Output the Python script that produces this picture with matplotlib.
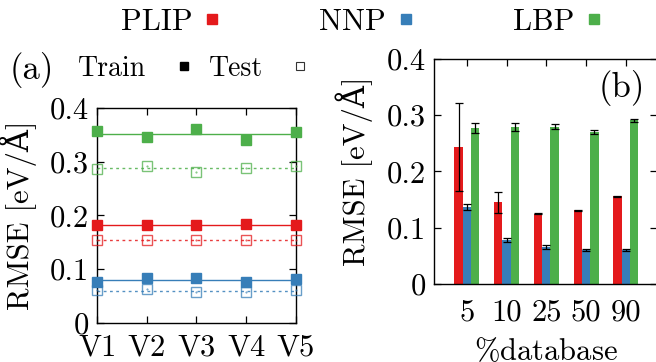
import numpy as np
import matplotlib
matplotlib.use("Agg")
import matplotlib.pyplot as plt
from matplotlib.lines import Line2D

plt.rcParams['font.family'] = 'serif'
plt.rcParams['font.serif'] = ['cmr10']
plt.rcParams['mathtext.fontset'] = 'cm'
plt.rcParams['axes.formatter.use_mathtext'] = True
plt.rcParams['axes.unicode_minus'] = False

# ---------------- data ----------------
versions = ['V1', 'V2', 'V3', 'V4', 'V5']
plip_train = [0.182, 0.182, 0.182, 0.184, 0.182]
plip_test = [0.154, 0.154, 0.154, 0.154, 0.154]
nnp_train = [0.076, 0.084, 0.083, 0.076, 0.081]
nnp_test = [0.061, 0.063, 0.057, 0.058, 0.061]
lbp_train = [0.357, 0.346, 0.360, 0.340, 0.355]
lbp_test = [0.287, 0.292, 0.281, 0.289, 0.292]

pct_db = ['5', '10', '25', '50', '90']
plip_bar = [0.243, 0.145, 0.125, 0.131, 0.156]
plip_err = [0.078, 0.018, 0.001, 0.001, 0.001]
nnp_bar = [0.137, 0.078, 0.066, 0.060, 0.060]
nnp_err = [0.005, 0.004, 0.003, 0.002, 0.002]
lbp_bar = [0.277, 0.279, 0.280, 0.270, 0.291]
lbp_err = [0.009, 0.007, 0.005, 0.004, 0.003]

yticks = [0, 0.1, 0.2, 0.3, 0.4]
ytick_labels = ['0', '0.1', '0.2', '0.3', '0.4']

models = ['PLIP', 'NNP', 'LBP']
colors = ['#e41a1c', '#377eb8', '#4daf4a']

FS = 22
YLABEL = 'RMSE [eV/Å]'
YFAM = ['cmr10', 'DejaVu Serif']
fig = plt.figure(figsize=(6.56, 3.62), dpi=100)

# ---------------- panel (a) ----------------
axa = fig.add_axes([0.148, 0.1077, 0.303, 0.594])
xa = np.arange(1, len(versions) + 1)
trains = [plip_train, nnp_train, lbp_train]
tests = [plip_test, nnp_test, lbp_test]
for tr, te, c in zip(trains, tests, colors):
    axa.plot([xa[0], xa[-1]], [np.mean(tr)] * 2, '-', color=c, lw=1.0, zorder=2)
    axa.plot([xa[0], xa[-1]], [np.mean(te)] * 2, linestyle=(0, (2, 2.5)), color=c, lw=1.0, alpha=0.85, zorder=2)
    axa.plot(xa, tr, 's', color=c, ms=6.5, mec=c, clip_on=False, zorder=3)
    axa.plot(xa, te, 's', mfc='none', mec=c, mew=1.0, ms=6.5, alpha=0.75, clip_on=False, zorder=3)
    axa.plot(xa, te, '.', color=c, ms=1.0, alpha=0.75, clip_on=False, zorder=3)
axa.set_xlim(1, 5)
axa.set_ylim(0, 0.4)
axa.set_xticks(xa)
axa.set_xticklabels(versions, fontsize=FS)
axa.set_yticks(yticks)
axa.set_yticklabels(ytick_labels, fontsize=FS)
axa.tick_params(direction='in', top=True, right=True, length=5, width=0.9, pad=6)
axa.tick_params(axis='x', pad=8)
axa.set_ylabel(YLABEL, fontsize=FS, family=YFAM)
axa.yaxis.set_label_coords(-0.30, 0.5)
for s in axa.spines.values():
    s.set_linewidth(1.0)

fig.text(0.049, 0.807, '(a)', fontsize=FS + 3, ha='center', va='center')
h_train = Line2D([], [], marker='s', color='black', ls='none', ms=6)
h_test = Line2D([], [], marker='s', mfc='none', mec='black', mew=0.8, ls='none', ms=5.5, alpha=0.8)
fig.legend([h_train, h_test], ['Train', 'Test'], loc='center left',
           bbox_to_anchor=(0.119, 0.81), ncol=2, frameon=False, fontsize=FS - 2,
           markerfirst=False, handlelength=0.6, handletextpad=1.05,
           columnspacing=0.6, borderpad=0, borderaxespad=0)

# ---------------- panel (b) ----------------
axb = fig.add_axes([0.6616, 0.2155, 0.34, 0.6215])
xb = np.arange(len(pct_db))
w = 0.21
bars = [plip_bar, nnp_bar, lbp_bar]
errs = [plip_err, nnp_err, lbp_err]
for i, (b, e, c) in enumerate(zip(bars, errs, colors)):
    axb.bar(xb + (i - 1) * w, b, width=w, color=c, yerr=e,
            error_kw=dict(ecolor='black', elinewidth=0.9, capsize=3, capthick=0.9),
            zorder=2)
axb.set_xlim(-0.83, 4.79)
axb.set_ylim(0, 0.4)
axb.set_xticks(xb)
axb.set_xticklabels(pct_db, fontsize=FS)
axb.set_yticks(yticks)
axb.set_yticklabels(ytick_labels, fontsize=FS)
axb.tick_params(direction='in', top=True, right=True, length=5, width=0.9, pad=6)
axb.tick_params(axis='x', bottom=False, pad=11)
axb.set_ylabel(YLABEL, fontsize=FS, family=YFAM)
axb.yaxis.set_label_coords(-0.275, 0.5)
axb.set_xlabel(r'$\%\mathrm{database}$', fontsize=FS)
axb.xaxis.set_label_coords(0.5, -0.235)
for s in axb.spines.values():
    s.set_linewidth(1.0)
axb.text(0.84, 0.87, '(b)', transform=axb.transAxes, fontsize=FS + 3, ha='center', va='center')

# ---------------- top legend ----------------
handles = [Line2D([], [], marker='s', color=c, ls='none', ms=6.5) for c in colors]
fig.legend(handles, models, loc='center', bbox_to_anchor=(0.552, 0.939), ncol=3,
           frameon=False, fontsize=FS, markerfirst=False, handlelength=0.6,
           handletextpad=0.35, columnspacing=3.2, borderpad=0, borderaxespad=0)

fig.savefig('out.png', dpi=100)
